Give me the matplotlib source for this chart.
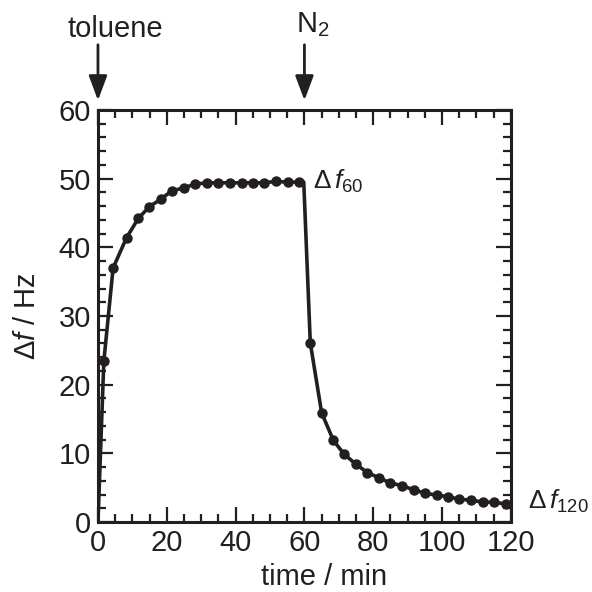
import numpy as np
import matplotlib
matplotlib.use("Agg")
import matplotlib.pyplot as plt

plt.rcParams["font.family"] = ["Liberation Sans", "DejaVu Sans"]
plt.rcParams["mathtext.fontset"] = "custom"
plt.rcParams["mathtext.rm"] = "Liberation Sans"
plt.rcParams["mathtext.it"] = "Liberation Sans:italic"

# toluene uptake (0-60 min)
t_up = [1.7, 4.4, 8.3, 11.7, 14.9, 18.2, 21.4, 25.1, 28.2, 31.6, 35.0,
        38.4, 41.8, 45.1, 48.3, 51.7, 55.1, 58.4]
f_up = [23.4, 37.0, 41.4, 44.2, 45.9, 47.0, 48.2, 48.7, 49.2, 49.4, 49.4,
        49.4, 49.4, 49.4, 49.4, 49.6, 49.5, 49.5]
# N2 purge (60-120 min)
t_down = [61.7, 65.0, 68.4, 71.5, 75.0, 78.3, 81.8, 84.9, 88.3, 91.7, 95.1,
          98.5, 101.8, 105.0, 108.4, 111.8, 115.1, 118.6]
f_down = [26.1, 15.9, 11.9, 9.9, 8.4, 7.2, 6.4, 5.7, 5.3, 4.7, 4.2,
          3.9, 3.7, 3.3, 3.2, 2.9, 2.9, 2.6]
# line ends (no markers)
t_start, f_start = 0.0, 0.0
t_switch, f_switch = 59.8, 49.5
t_end, f_end = 120.0, 2.4

INK = "#231f20"
FS = 21

fig = plt.figure(figsize=(5.92, 5.92), dpi=100)
ax = fig.add_axes([0.1655, 0.1182, 0.6975, 0.696])

t_line = [t_start] + t_up + [t_switch] + t_down + [t_end]
f_line = [f_start] + f_up + [f_switch] + f_down + [f_end]
ax.plot(t_line, f_line, color=INK, lw=2.6, zorder=3)
ax.plot(t_up + t_down, f_up + f_down, "o", color=INK, ms=6.5, zorder=4)

ax.set_xlim(0, 120)
ax.set_ylim(0, 60)
ax.set_xticks(np.arange(0, 121, 20))
ax.set_yticks(np.arange(0, 61, 10))
ax.set_xticks(np.arange(0, 121, 5), minor=True)
ax.set_yticks(np.arange(0, 61, 2), minor=True)
ax.tick_params(which="both", direction="in", top=True, right=True,
               labelsize=FS, width=1.6, color=INK, labelcolor=INK)
ax.tick_params(which="major", length=11, pad=5)
ax.tick_params(which="minor", length=5.5)
for s in ax.spines.values():
    s.set_linewidth(2.2)
    s.set_color(INK)

ax.set_xlabel("time / min", fontsize=FS, color=INK, va="baseline")
ax.xaxis.set_label_coords(0.547, -0.153)
ax.set_ylabel(r"$\Delta\it{f}$ / Hz", fontsize=FS, color=INK, va="center")
ax.yaxis.set_label_coords(-0.172, 0.5)

ax.text(62.5, 49.6, r"$\Delta\,\it{f}_{60}$", fontsize=19, va="center",
        ha="left", color=INK)
ax.text(125.0, 3.0, r"$\Delta\,\it{f}_{120}$", fontsize=19, va="center",
        ha="left", color=INK, clip_on=False)

arrow = dict(arrowstyle="-|>,head_length=0.75,head_width=0.28",
             lw=2.0, color=INK, shrinkA=0, shrinkB=0, mutation_scale=20)
ax.annotate("", xy=(0, 61.4), xytext=(0, 69.5), arrowprops=arrow,
            annotation_clip=False)
ax.annotate("", xy=(60, 61.4), xytext=(60, 69.5), arrowprops=arrow,
            annotation_clip=False)
ax.text(5.1, 70.7, "toluene", fontsize=FS, ha="center", va="baseline",
        color=INK, clip_on=False)
ax.text(57.6, 71.4, r"N$_2$", fontsize=FS, ha="left", va="baseline",
        color=INK, clip_on=False)

fig.savefig("out.png", dpi=100, facecolor="white")
